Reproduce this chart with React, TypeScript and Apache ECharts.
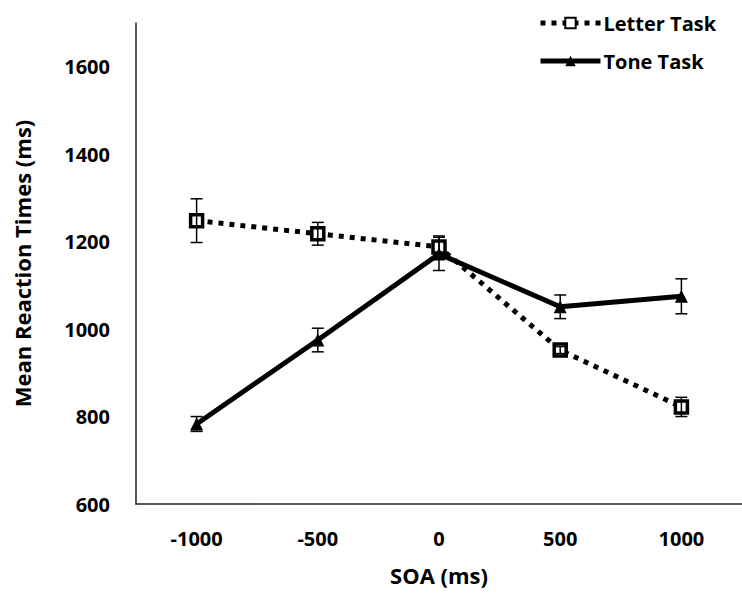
import React, { useEffect, useRef } from "react";
import * as echarts from "echarts";

const soaLabels = ["-1000", "-500", "0", "500", "1000"];
const letterMeans = [1248, 1218, 1188, 952, 822];
const letterErrors = [50, 26, 25, 8, 22];
const toneMeans = [783, 975, 1172, 1051, 1075];
const toneErrors = [17, 27, 38, 27, 40];

const FONT = "Open Sans";
const FS = 20;

function errorSeries(name: string, means: number[], errs: number[]) {
  return {
    type: "custom",
    name,
    silent: true,
    z: 5,
    data: means.map((m, i) => [i, m - errs[i], m + errs[i]]),
    renderItem: (params: any, api: any) => {
      const lo = api.coord([api.value(0), api.value(1)]);
      const hi = api.coord([api.value(0), api.value(2)]);
      const half = 6;
      const style = { stroke: "#000", lineWidth: 1.5 };
      return {
        type: "group",
        children: [
          { type: "line", shape: { x1: lo[0], y1: lo[1], x2: hi[0], y2: hi[1] }, style },
          { type: "line", shape: { x1: lo[0] - half, y1: lo[1], x2: lo[0] + half, y2: lo[1] }, style },
          { type: "line", shape: { x1: hi[0] - half, y1: hi[1], x2: hi[0] + half, y2: hi[1] }, style },
        ],
      };
    },
  };
}

export default function App() {
  const ref = useRef<HTMLDivElement>(null);
  useEffect(() => {
    document.body.style.margin = "0";
    const chart = echarts.init(ref.current!, null, { renderer: "svg" });
    const txt = { fontFamily: FONT, fontWeight: "bold", fontSize: FS, color: "#000" };
    const nameTxt = { ...txt, fontSize: 22 };
    chart.setOption({
      animation: false,
      backgroundColor: "#fff",
      textStyle: { fontFamily: FONT },
      grid: { left: 136, top: 23, bottom: 90, width: 613, containLabel: false },
      legend: {
        orient: "vertical",
        left: 533,
        top: 8,
        itemWidth: 60,
        itemHeight: 13,
        itemGap: 18,
        data: ["Letter Task", "Tone Task"],
        lineStyle: { width: 5 },
        textStyle: { ...txt, padding: [0, 0, 0, -2] },
      },
      xAxis: {
        type: "category",
        data: soaLabels,
        boundaryGap: true,
        name: "SOA (ms)",
        nameLocation: "middle",
        nameGap: 60,
        nameTextStyle: nameTxt,
        axisLine: { lineStyle: { color: "#222", width: 1.5 } },
        axisTick: { show: false },
        axisLabel: { margin: 24, ...txt },
        splitLine: { show: false },
      },
      yAxis: {
        type: "value",
        min: 600,
        max: 1700,
        interval: 200,
        name: "Mean Reaction Times (ms)",
        nameLocation: "middle",
        nameGap: 103,
        nameTextStyle: nameTxt,
        axisLine: { show: true, lineStyle: { color: "#222", width: 1.5 } },
        axisTick: { show: false },
        splitLine: { show: false },
        axisLabel: {
          margin: 26,
          showMaxLabel: false,
          formatter: (v: number) => String(v),
          ...txt,
        },
      },
      series: [
        {
          type: "line",
          name: "Letter Task",
          data: letterMeans,
          z: 3,
          symbol: "rect",
          symbolSize: 12,
          lineStyle: { color: "#000", width: 5, type: [5, 6] },
          itemStyle: { color: "#fff", borderColor: "#000", borderWidth: 3.5 },
        },
        {
          type: "line",
          name: "Tone Task",
          data: toneMeans,
          z: 4,
          symbol: "triangle",
          symbolSize: 13,
          lineStyle: { color: "#000", width: 5 },
          itemStyle: { color: "#000" },
        },
        errorSeries("letterErr", letterMeans, letterErrors),
        errorSeries("toneErr", toneMeans, toneErrors),
      ],
    });
    return () => chart.dispose();
  }, []);
  return <div ref={ref} style={{ width: 742, height: 594 }} />;
}
